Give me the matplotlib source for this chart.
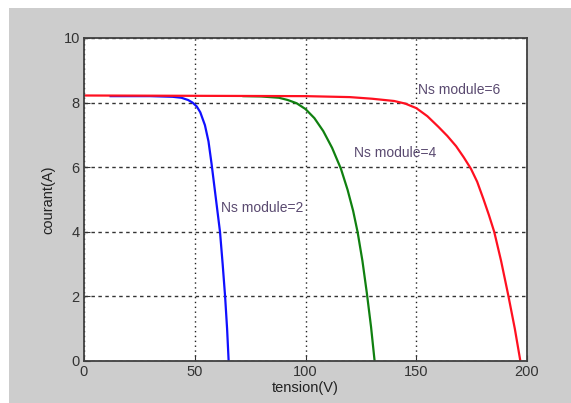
import matplotlib.pyplot as plt
from matplotlib.patches import Rectangle

# courbes I-V
v_ns2 = [12, 30, 40, 44, 47, 49, 50.9, 52.5, 54.6, 56.2, 57.6, 59.5, 61.4, 62.6, 63.7, 64.6, 65.3]
i_ns2 = [8.2, 8.2, 8.18, 8.15, 8.08, 8.0, 7.88, 7.7, 7.3, 6.8, 6.1, 5.05, 4.0, 3.0, 2.0, 1.0, 0.0]

v_ns4 = [72, 80, 88, 92, 96, 100, 104, 108, 112, 116, 119, 121.5, 123.5, 125.7, 127.7, 129.6, 131.2]
i_ns4 = [8.2, 8.19, 8.15, 8.08, 7.98, 7.8, 7.52, 7.12, 6.6, 5.95, 5.3, 4.65, 4.0, 3.1, 2.1, 1.05, 0.0]

v_ns6 = [0, 50, 100, 120, 130, 140, 145, 150, 155, 160, 164, 168, 171.5, 174.7, 177.5,
         180.3, 182.8, 185.2, 188.3, 191.5, 194.5, 197]
i_ns6 = [8.22, 8.21, 8.2, 8.17, 8.12, 8.05, 7.97, 7.83, 7.58, 7.25, 6.97, 6.65, 6.3, 5.95, 5.55,
         5.02, 4.52, 4.0, 3.1, 2.05, 1.0, 0.0]

labels = ['Ns module=2', 'Ns module=4', 'Ns module=6']
label_pos = [(62, 4.75), (122, 6.45), (151, 8.4)]

xticks = [0, 50, 100, 150, 200]
yticks = [0, 2, 4, 6, 8, 10]

plt.rcParams['font.family'] = ['Liberation Sans', 'DejaVu Sans']

fig = plt.figure(figsize=(5.71, 4.03), dpi=100, facecolor='white')
fig.patches.append(Rectangle((9 / 571, 0), 1, 1 - 8 / 403, transform=fig.transFigure,
                             facecolor='#cdcdcd', edgecolor='none', zorder=-10))
ax = fig.add_axes([84 / 571, 42 / 403, 443 / 571, 323 / 403])
ax.set_zorder(5)
ax.set_facecolor('white')

ax.plot(v_ns2, i_ns2, color='#1010ff', lw=1.6)
ax.plot(v_ns4, i_ns4, color='#108010', lw=1.6)
ax.plot(v_ns6, i_ns6, color='#ff1020', lw=1.6)

for txt, (x, y) in zip(labels, label_pos):
    ax.text(x, y, txt, color='#5a4a70', fontsize=10, va='center', ha='left')

ax.set_xlim(0, 200)
ax.set_ylim(0, 10)
ax.set_xticks(xticks)
ax.set_yticks(yticks)
ax.tick_params(direction='in', length=4, colors='#333333', labelsize=10.5, pad=3)
ax.xaxis.grid(True, color='#222222', linestyle=(0, (1, 2.5)), lw=1)
ax.yaxis.grid(True, color='#333333', linestyle=(0, (2.5, 2.5)), lw=1)
ax.set_axisbelow(True)
for s in ax.spines.values():
    s.set_color('#404040')
    s.set_linewidth(1.3)

ax.set_xlabel('tension(V)', fontsize=10.5, color='#222222', labelpad=1)
ax.set_ylabel('courant(A)', fontsize=10.5, color='#222222', labelpad=6)

fig.savefig('out.png', dpi=100, facecolor=fig.get_facecolor())
